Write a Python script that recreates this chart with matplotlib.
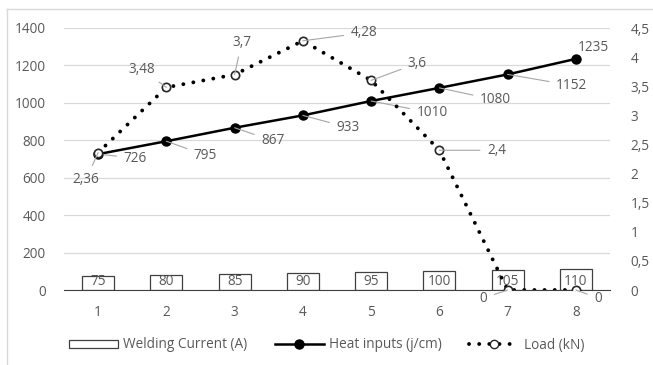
import matplotlib.pyplot as plt
from matplotlib.lines import Line2D
from matplotlib.patches import Rectangle
import numpy as np

plt.rcParams['font.family'] = ['Open Sans', 'DejaVu Sans']

samples = ['1', '2', '3', '4', '5', '6', '7', '8']
current = [75, 80, 85, 90, 95, 100, 105, 110]
heat = [726, 795, 867, 933, 1010, 1080, 1152, 1235]
load = [2.36, 3.48, 3.7, 4.28, 3.6, 2.4, 0, 0]
load_labels = ['2,36', '3,48', '3,7', '4,28', '3,6', '2,4', '0', '0']
left_ticks = [0, 200, 400, 600, 800, 1000, 1200, 1400]
right_ticks = ['0', '0,5', '1', '1,5', '2', '2,5', '3', '3,5', '4', '4,5']

# label offsets in pixels (dx, dy), leader line drawn when set
heat_off = [(37, -4), (39, -14), (38, -13), (45, -12), (61, -12), (56, -12), (64, -11), (17, 11)]
heat_lead = [True] * 7 + [False]
load_off = [(-12, -27), (-25, 18), (7, 32), (61, 8), (46, 17), (57, 0), (-24, -8), (22, -8)]

txt = '#595959'
fs = 9.8
dots = (0, (0.01, 2.6))
W, H = 653, 365
fig = plt.figure(figsize=(W / 100, H / 100), dpi=100)
ax = fig.add_axes([64 / W, 1 - 290 / H, 546 / W, 262 / H])
ax2 = ax.twinx()

x = np.arange(len(samples))
bars = ax.bar(x, current, width=0.47, facecolor='white', edgecolor='#404040', linewidth=0.9, zorder=2)
for b, v in zip(bars, current):
    ax.annotate(str(v), (b.get_x() + b.get_width() / 2, 0), xytext=(0, 1), textcoords='offset pixels',
                ha='center', va='bottom', fontsize=fs, color=txt, zorder=3)

ax.plot(x, heat, color='black', linewidth=1.8, marker='o', markersize=6.5, zorder=4)
for i, v in enumerate(heat):
    ax.annotate(str(v), (x[i], v), xytext=heat_off[i], textcoords='offset pixels', ha='center', va='center',
                fontsize=fs, color=txt, zorder=5,
                arrowprops=dict(arrowstyle='-', color='#a6a6a6', lw=0.8, shrinkA=3, shrinkB=0) if heat_lead[i] else None)

ax2.plot(x, load, color='black', linestyle=dots, dash_capstyle='round', linewidth=2.8,
         marker='o', markersize=6, markerfacecolor='white', markeredgecolor='#262626', markeredgewidth=1.2, zorder=4)
for i, v in enumerate(load):
    ax2.annotate(load_labels[i], (x[i], v), xytext=load_off[i], textcoords='offset pixels', ha='center', va='center',
                 fontsize=fs, color=txt, zorder=5,
                 arrowprops=dict(arrowstyle='-', color='#a6a6a6', lw=0.8, shrinkA=3, shrinkB=0))

ax.set_xlim(-0.5, len(samples) - 0.5)
ax.set_ylim(0, 1400)
ax2.set_ylim(0, 4.5)
ax.set_xticks(x, samples)
ax.set_yticks(left_ticks, [str(t) for t in left_ticks])
ax2.set_yticks(np.arange(len(right_ticks)) * 0.5, right_ticks)
ax.grid(axis='y', color='#d9d9d9', linewidth=0.9, zorder=0)
ax.set_axisbelow(True)
for a in (ax, ax2):
    for s in a.spines.values():
        s.set_visible(False)
    a.tick_params(length=0, labelsize=fs, labelcolor=txt)
ax.spines['bottom'].set_visible(True)
ax.spines['bottom'].set_color('#404040')
ax.tick_params(axis='y', pad=13)
ax.tick_params(axis='x', pad=11)
ax2.tick_params(axis='y', pad=15)
ax2.set_zorder(ax.get_zorder() + 1)
ax2.patch.set_visible(False)

handles = [
    Rectangle((0, 0), 1, 1, facecolor='white', edgecolor='#404040', linewidth=0.9),
    Line2D([], [], color='black', linewidth=1.8, marker='o', markersize=6.5),
    Line2D([], [], color='black', linestyle=dots, dash_capstyle='round', linewidth=2.8,
           marker='o', markersize=6, markerfacecolor='white', markeredgecolor='#262626'),
]
fig.legend(handles, ['Welding Current (A)', 'Heat inputs (j/cm)', 'Load (kN)'], loc='center',
           bbox_to_anchor=(0.5, 1 - 345 / H), ncol=3, frameon=False, fontsize=fs, labelcolor=txt,
           handlelength=3.6, handleheight=0.5, columnspacing=2.0, handletextpad=0.4)

fig.add_artist(Line2D([7 / W, 7 / W], [0, 1 - 9 / H], color='#d9d9d9', linewidth=1))
fig.add_artist(Line2D([7 / W, 1], [1 - 9 / H, 1 - 9 / H], color='#d9d9d9', linewidth=1))

fig.savefig('out.png', dpi=100)
